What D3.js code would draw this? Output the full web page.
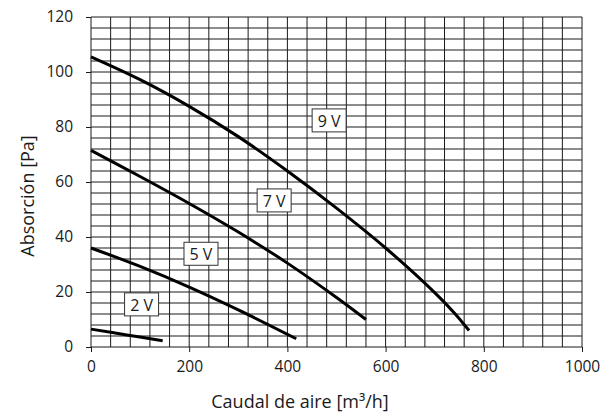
<!DOCTYPE html>
<html>
<head>
<meta charset="utf-8">
<script src="https://cdn.jsdelivr.net/npm/d3@7"></script>
<style>
  html, body { margin: 0; padding: 0; background: #fff; }
  svg { display: block; font-family: "Open Sans", "Noto Sans", sans-serif; }
</style>
</head>
<body>
<svg id="chart" width="609" height="417"></svg>
<script>
// Fan curves: air flow [m³/h] against pressure absorption [Pa], per control voltage
const flow9V = [0, 100, 200, 300, 400, 500, 600, 700, 740, 770];
const pa9V   = [105.5, 97.2, 87.5, 76.5, 64, 50.5, 36, 19.8, 12.4, 6];

const flow7V = [0, 100, 200, 300, 400, 500, 560];
const pa7V   = [71.5, 62, 52.2, 41.8, 30.5, 18, 10];

const flow5V = [0, 100, 200, 300, 418];
const pa5V   = [36, 29.3, 21.8, 13.5, 3];

const flow2V = [0, 73, 146];
const pa2V   = [6.5, 4.4, 2.3];

const seriesNames = ["9 V", "7 V", "5 V", "2 V"];
// label anchor of each curve, in data units
const labelFlow = [485, 373, 224, 103];
const labelPa   = [82.4, 53.3, 33.9, 15.5];

const xTicks = [0, 200, 400, 600, 800, 1000];
const yTicks = [0, 20, 40, 60, 80, 100, 120];
const xTitle = "Caudal de aire [m³/h]";
const yTitle = "Absorción [Pa]";

const series = [
  { name: seriesNames[0], x: flow9V, y: pa9V },
  { name: seriesNames[1], x: flow7V, y: pa7V },
  { name: seriesNames[2], x: flow5V, y: pa5V },
  { name: seriesNames[3], x: flow2V, y: pa2V }
];

const svg = d3.select("#chart");
const plot = { left: 91, right: 582, top: 17, bottom: 347 };

const x = d3.scaleLinear().domain([0, 1000]).range([plot.left, plot.right]);
const y = d3.scaleLinear().domain([0, 120]).range([plot.bottom, plot.top]);

// grid: every 40 m³/h and every 4 Pa
const grid = svg.append("g").attr("stroke", "#1a1a1a").attr("stroke-width", 1);
grid.selectAll("line.v").data(d3.range(0, 1001, 40)).join("line")
  .attr("class", "v")
  .attr("x1", d => x(d)).attr("x2", d => x(d))
  .attr("y1", plot.top).attr("y2", plot.bottom);
grid.selectAll("line.h").data(d3.range(0, 121, 4)).join("line")
  .attr("class", "h")
  .attr("y1", d => y(d)).attr("y2", d => y(d))
  .attr("x1", plot.left).attr("x2", plot.right);

// axes
const xAxis = svg.append("g")
  .attr("transform", `translate(0,${plot.bottom})`)
  .call(d3.axisBottom(x).tickValues(xTicks).tickSize(5).tickPadding(9).tickFormat(d3.format("d")));
const yAxis = svg.append("g")
  .attr("transform", `translate(${plot.left},0)`)
  .call(d3.axisLeft(y).tickValues(yTicks).tickSize(5).tickPadding(13).tickFormat(d3.format("d")));
[xAxis, yAxis].forEach(a => {
  a.select(".domain").remove();
  a.selectAll(".tick line").attr("stroke", "#1a1a1a");
  a.selectAll(".tick text").attr("fill", "#1a1a1a")
    .style("font-family", "'Open Sans', 'Noto Sans', sans-serif").style("font-size", "15.5px");
});

// curves
const line = d3.line().x(d => x(d[0])).y(d => y(d[1])).curve(d3.curveCatmullRom);
svg.append("g").selectAll("path").data(series).join("path")
  .attr("d", s => line(s.x.map((v, i) => [v, s.y[i]])))
  .attr("fill", "none")
  .attr("stroke", "#000")
  .attr("stroke-width", 3);

// boxed curve labels
const labels = svg.append("g");
series.forEach((s, i) => {
  const g = labels.append("g")
    .attr("transform", `translate(${x(labelFlow[i])},${y(labelPa[i])})`);
  const w = 34, h = 23;
  g.append("rect")
    .attr("x", -w / 2).attr("y", -h / 2).attr("width", w).attr("height", h)
    .attr("fill", "#fff").attr("stroke", "#333").attr("stroke-width", 1);
  g.append("text")
    .attr("text-anchor", "middle")
    .attr("dominant-baseline", "central")
    .attr("y", 0.5)
    .style("font-size", "16px")
    .attr("fill", "#1a1a1a")
    .text(s.name);
});

// axis titles
svg.append("text")
  .attr("x", 300)
  .attr("y", 408)
  .attr("text-anchor", "middle")
  .style("font-size", "18px")
  .attr("fill", "#1a1a1a")
  .text(xTitle);
svg.append("text")
  .attr("transform", `translate(34,196) rotate(-90)`)
  .attr("text-anchor", "middle")
  .style("font-size", "18px")
  .attr("fill", "#1a1a1a")
  .text(yTitle);
</script>
</body>
</html>
